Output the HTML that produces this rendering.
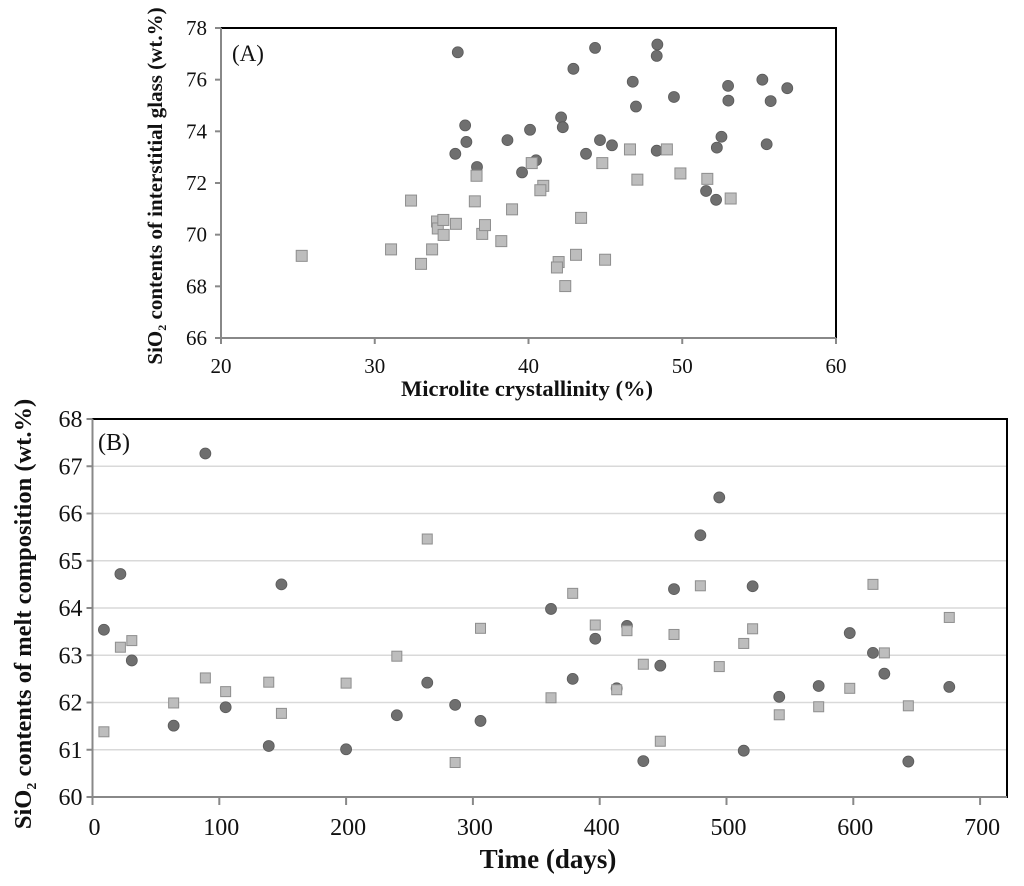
<!DOCTYPE html>
<html><head><meta charset="utf-8">
<style>
html,body{margin:0;padding:0;background:#fff;}
svg{display:block;font-family:"Liberation Serif",serif;}
</style></head>
<body>
<svg id="chart" width="1024" height="886" viewBox="0 0 1024 886" xmlns="http://www.w3.org/2000/svg">
<rect x="0" y="0" width="1024" height="886" fill="#fff"/>
<g id="panelA"></g>
<g id="panelB"></g>
</svg>
<script>
// Panel A data
const aCircleX = [35.40,44.33,42.92,42.12,42.23,35.88,35.96,35.24,38.63,40.10,40.49,39.58,36.65,43.74,44.65,45.43,48.38,48.34,46.78,46.99,49.46,48.34,52.98,53.0,52.55,52.25,51.55,52.20,55.21,56.83,55.75,55.49];
const aCircleY = [77.06,77.23,76.42,74.54,74.16,74.23,73.59,73.13,73.66,74.06,72.88,72.41,72.62,73.13,73.66,73.46,77.36,76.92,75.92,74.96,75.33,73.25,75.76,75.19,73.79,73.37,71.69,71.35,76.0,75.67,75.17,73.5];
const aSquareX = [25.25,32.36,31.06,33.01,33.73,34.05,34.10,34.46,34.48,35.28,36.51,36.62,36.99,37.17,38.23,38.93,40.21,40.96,40.77,43.42,43.09,41.96,41.85,42.39,44.80,44.98,46.6,49.0,47.08,49.88,51.63,53.15];
const aSquareY = [69.18,71.32,69.43,68.87,69.43,70.51,70.24,70.57,69.99,70.42,71.29,72.28,70.03,70.37,69.75,70.98,72.77,71.89,71.72,70.65,69.22,68.94,68.73,68.01,72.77,69.03,73.3,73.3,72.13,72.37,72.16,71.40];
const aXTicks = [20,30,40,50,60];
const aYTicks = [66,68,70,72,74,76,78];
// Panel B data
const bCircleX = [9,22,31,89,64,105,149,139,200,240,264,286,306,361.6,378.7,396.5,421.5,413.4,434.4,447.8,458.6,479.4,494.3,513.6,520.6,541.6,572.7,597.2,615.5,624.5,643.4,675.7];
const bCircleY = [63.54,64.72,62.89,67.27,61.51,61.90,64.50,61.08,61.01,61.73,62.42,61.95,61.61,63.98,62.50,63.35,63.62,62.30,60.76,62.78,64.40,65.54,66.34,60.98,64.46,62.12,62.35,63.47,63.05,62.61,60.75,62.33];
const bSquareX = [9,22,31,64,89,105,139,149,200,240,264,286,306,361.6,378.7,396.5,421.5,413.4,434.4,447.8,458.6,479.4,494.3,513.6,520.6,541.6,572.7,597.2,615.5,624.5,643.4,675.7];
const bSquareY = [61.38,63.17,63.31,61.99,62.52,62.23,62.43,61.77,62.41,62.98,65.46,60.73,63.57,62.10,64.31,63.64,63.52,62.27,62.81,61.18,63.44,64.47,62.76,63.25,63.56,61.74,61.91,62.30,64.50,63.05,61.93,63.80];
const bXTicks = [0,100,200,300,400,500,600,700];
const bYTicks = [60,61,62,63,64,65,66,67,68];

const NS = "http://www.w3.org/2000/svg";
function mk(parent, tag, attrs, text){
  const e = document.createElementNS(NS, tag);
  for (const k in attrs) e.setAttribute(k, attrs[k]);
  if (text !== undefined) e.textContent = text;
  parent.appendChild(e);
  return e;
}

// ---------- Panel A ----------
(function(){
  const g = document.getElementById('panelA');
  const L=221, R=836, T=28, B=338;
  const xs = v => L + (v-20)/40*(R-L);
  const ys = v => B - (v-66)/12*(B-T);
  const frame = mk(g,'rect',{x:L,y:T,width:R-L,height:B-T,fill:'#fff',stroke:'#000','stroke-width':2});
  
  
  const yax = mk(g,'line',{x1:L,y1:T,x2:L,y2:B+1,stroke:'#888','stroke-width':2});
  
  
  const xax = mk(g,'line',{x1:L,y1:B,x2:R,y2:B,stroke:'#888','stroke-width':2});
  
  
  aYTicks.forEach(v=>{
    const y=ys(v);
    const t=mk(g,'line',{x1:L-6,y1:y,x2:L,y2:y,stroke:'#888','stroke-width':2});
    
    
    const lb=mk(g,'text',{x:L-14,y:y+7,'text-anchor':'end','font-size':21,fill:'#111'},String(v));
    
    
  });
  aXTicks.forEach(v=>{
    const x=xs(v);
    const t=mk(g,'line',{x1:x,y1:B,x2:x,y2:B+6,stroke:'#888','stroke-width':2});
    
    
    const lb=mk(g,'text',{x:x,y:B+35,'text-anchor':'middle','font-size':21,fill:'#111'},String(v));
    
    
  });
  aCircleX.forEach((v,i)=>{
    const c=mk(g,'circle',{cx:xs(v),cy:ys(aCircleY[i]),r:5.5,fill:'#6f6f6f',stroke:'#5a5a5a','stroke-width':0.8});
    
    
  });
  aSquareX.forEach((v,i)=>{
    const s=mk(g,'rect',{x:xs(v)-5.5,y:ys(aSquareY[i])-5.5,width:11,height:11,fill:'#bdbdbd',stroke:'#8e8e8e','stroke-width':1});
    
    
  });
  const pl=mk(g,'text',{x:232,y:61,'font-size':23,fill:'#111'},'(A)');
  
  
  const xt=mk(g,'text',{x:527,y:396,'text-anchor':'middle','font-size':22.5,'font-weight':'bold',fill:'#111'},'Microlite crystallinity (%)');
  
  
  const yt=mk(g,'text',{transform:'translate(162,186) rotate(-90)','text-anchor':'middle','font-size':21,'font-weight':'bold',fill:'#111'});
  
  
  yt.innerHTML='SiO<tspan font-size="12" dy="4">2</tspan><tspan dy="-4"> contents of interstitial glass (wt.%)</tspan>';
})();

// ---------- Panel B ----------
(function(){
  const g = document.getElementById('panelB');
  const L=92.5, R=1007, T=419, B=797;
  const xs = v => L + v*1.268;
  const ys = v => B - (v-60)/8*(B-T);
  const frame = mk(g,'rect',{x:L,y:T,width:R-L,height:B-T,fill:'#fff',stroke:'#000','stroke-width':2});
  
  
  bYTicks.forEach(v=>{
    const y=ys(v);
    if(v>60 && v<68){
      const gl=mk(g,'line',{x1:L,y1:y,x2:R-1,y2:y,stroke:'#d9d9d9','stroke-width':1.5});
      
      
    }
    const t=mk(g,'line',{x1:L-6,y1:y,x2:L,y2:y,stroke:'#888','stroke-width':2});
    
    
    const lb=mk(g,'text',{x:L-10,y:y+8,'text-anchor':'end','font-size':24,fill:'#111'},String(v));
    
    
  });
  const yax = mk(g,'line',{x1:L,y1:T,x2:L,y2:B+1,stroke:'#888','stroke-width':2});
  
  
  const xax = mk(g,'line',{x1:L,y1:B,x2:R,y2:B,stroke:'#888','stroke-width':2});
  
  
  bXTicks.forEach(v=>{
    const x=xs(v);
    const t=mk(g,'line',{x1:x,y1:B,x2:x,y2:B+8,stroke:'#888','stroke-width':2});
    
    
    const lb=mk(g,'text',{x:x+2,y:B+38,'text-anchor':'middle','font-size':24,fill:'#111'},String(v));
    
    
  });
  bCircleX.forEach((v,i)=>{
    const c=mk(g,'circle',{cx:xs(v),cy:ys(bCircleY[i]),r:5.5,fill:'#6f6f6f',stroke:'#5a5a5a','stroke-width':0.8});
    
    
  });
  bSquareX.forEach((v,i)=>{
    const s=mk(g,'rect',{x:xs(v)-5,y:ys(bSquareY[i])-5,width:10,height:10,fill:'#bdbdbd',stroke:'#8e8e8e','stroke-width':1});
    
    
  });
  const pl=mk(g,'text',{x:98,y:450,'font-size':24,fill:'#111'},'(B)');
  
  
  const xt=mk(g,'text',{x:548,y:868,'text-anchor':'middle','font-size':27,'font-weight':'bold',fill:'#111'},'Time (days)');
  
  
  const yt=mk(g,'text',{transform:'translate(31,614) rotate(-90)','text-anchor':'middle','font-size':24.5,'font-weight':'bold',fill:'#111'});
  
  
  yt.innerHTML='SiO<tspan font-size="14" dy="5">2</tspan><tspan dy="-5"> contents of melt composition (wt.%)</tspan>';
})();
</script>
</body></html>
